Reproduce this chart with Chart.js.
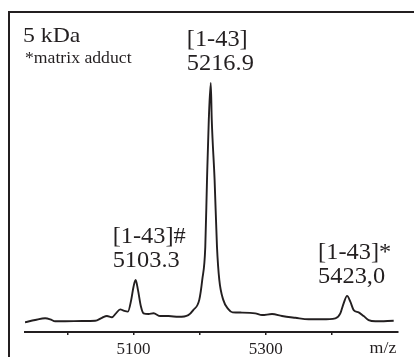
<!DOCTYPE html>
<html>
<head>
<meta charset="utf-8">
<script src="https://cdn.jsdelivr.net/npm/chart.js@4.4.1/dist/chart.umd.min.js"></script>
<style>
  html, body { margin: 0; padding: 0; background: #fff; }
  #wrap { width: 414px; height: 357px; position: relative; }
</style>
</head>
<body>
<div id="wrap"><canvas id="spectrum"></canvas></div>
<script>
// MALDI spectrum trace, m/z vs relative intensity (%)
const mzValues = [
  4936, 4951.4, 4966.5, 4974.1, 4981.7, 4996.8, 5022.0, 5042.2, 5052.3, 5059.9,
  5067.4, 5073.5, 5080.0, 5085.0, 5091.6, 5096.6, 5100.1, 5103.3, 5106.8, 5111.3,
  5115.2, 5122.8, 5130.4, 5140.5, 5153.1, 5168.2, 5182.9, 5190.4, 5199.5, 5204.0,
  5208.6, 5211.2, 5213.9, 5216.9, 5218.4, 5222.7, 5226.3, 5229.8, 5235.8, 5243.4,
  5249.9, 5264.1, 5284.2, 5294.4, 5309.5, 5324.6, 5344.7, 5364.9, 5385.1, 5405.3,
  5412.8, 5417.8, 5423.0, 5427.9, 5433.0, 5440.5, 5448.1, 5455.6, 5465.8, 5493.5
];
const intensities = [
  3.9, 4.8, 5.5, 5.1, 4.3, 4.3, 4.4, 4.5, 5.7, 6.4,
  5.9, 7.5, 9.1, 8.6, 8.2, 12.9, 18.2, 20.9, 16.9, 10.2,
  7.5, 7.2, 7.5, 6.4, 6.4, 6.1, 6.8, 8.8, 12.9, 20.9,
  34.1, 61.0, 85.1, 100, 85.1, 61.0, 34.1, 20.9, 12.9, 9.2,
  7.9, 7.8, 7.5, 6.8, 7.2, 6.4, 5.7, 5.1, 5.1, 5.5,
  7.5, 11.5, 14.5, 12.2, 8.8, 7.9, 6.4, 4.8, 4.3, 4.5
];

// annotated peaks
const peakMz = [5103.3, 5216.9, 5423.0];
const peakIntensity = [20.9, 100, 14.5];
const peakNames = ['[1-43]#', '[1-43]', '[1-43]*'];
const peakMasses = ['5103.3', '5216.9', '5423,0'];

// x axis
const tickValues = [5000, 5100, 5200, 5300, 5400];
const labeledTicks = [5100, 5300];
const axisTitle = 'm/z';
const title = '5 kDa';
const note = '*matrix adduct';

const ink = '#231f20';
const serif = '"Liberation Serif", "Times New Roman", serif';
const labelShift = [-23, -24, -29];

function stretchedText(ctx, text, x, y, size, sx) {
  ctx.save();
  ctx.font = size + 'px ' + serif;
  ctx.translate(x, y);
  ctx.scale(sx, 1);
  ctx.fillText(text, 0, 0);
  ctx.restore();
}

const annotations = {
  id: 'annotations',
  afterDraw(chart) {
    const ctx = chart.ctx;
    const x = chart.scales.x;
    const y = chart.scales.y;

    // frame: left and top rules
    ctx.save();
    ctx.strokeStyle = ink;
    ctx.lineWidth = 2;
    ctx.beginPath();
    ctx.moveTo(9, 357);
    ctx.lineTo(9, 12);
    ctx.lineTo(414, 12);
    ctx.stroke();

    ctx.fillStyle = ink;
    ctx.textBaseline = 'alphabetic';
    ctx.textAlign = 'left';
    stretchedText(ctx, title, 23, 42, 22, 1.08);
    stretchedText(ctx, note, 25, 63, 17, 1.04);

    peakMz.forEach((mz, i) => {
      const px = x.getPixelForValue(mz) + labelShift[i];
      const py = y.getPixelForValue(peakIntensity[i]) - 12.5;
      stretchedText(ctx, peakNames[i], px, py - 24, 23, 1.06);
      stretchedText(ctx, peakMasses[i], px, py, 23, 1.06);
    });

    ctx.textAlign = 'center';
    stretchedText(ctx, axisTitle, 383, 353, 17, 1.05);
    ctx.restore();
  }
};

new Chart(document.getElementById('spectrum'), {
  type: 'line',
  data: {
    datasets: [{
      data: mzValues.map((mz, i) => ({ x: mz, y: intensities[i] })),
      borderColor: ink,
      borderWidth: 1.9,
      pointRadius: 0,
      fill: false,
      cubicInterpolationMode: 'monotone'
    }]
  },
  options: {
    responsive: true,
    maintainAspectRatio: false,
    animation: false,
    layout: { padding: { left: 25, right: 16, top: 12, bottom: -7 } },
    plugins: {
      legend: { display: false },
      tooltip: { enabled: false }
    },
    scales: {
      x: {
        type: 'linear',
        min: 4936,
        max: 5500,
        afterBuildTicks: axis => {
          axis.ticks = tickValues.map(v => ({ value: v }));
        },
        grid: {
          drawOnChartArea: false,
          drawTicks: true,
          tickLength: 3,
          color: ink,
          lineWidth: 1.5
        },
        border: { display: true, color: ink, width: 2 },
        ticks: {
          color: ink,
          padding: 6,
          maxRotation: 0,
          autoSkip: false,
          font: { family: serif, size: 17, lineHeight: 1 },
          callback: v => labeledTicks.includes(v) ? String(v) : ''
        }
      },
      y: {
        display: false,
        min: 0,
        max: 128.5
      }
    }
  },
  plugins: [annotations]
});
</script>
</body>
</html>
